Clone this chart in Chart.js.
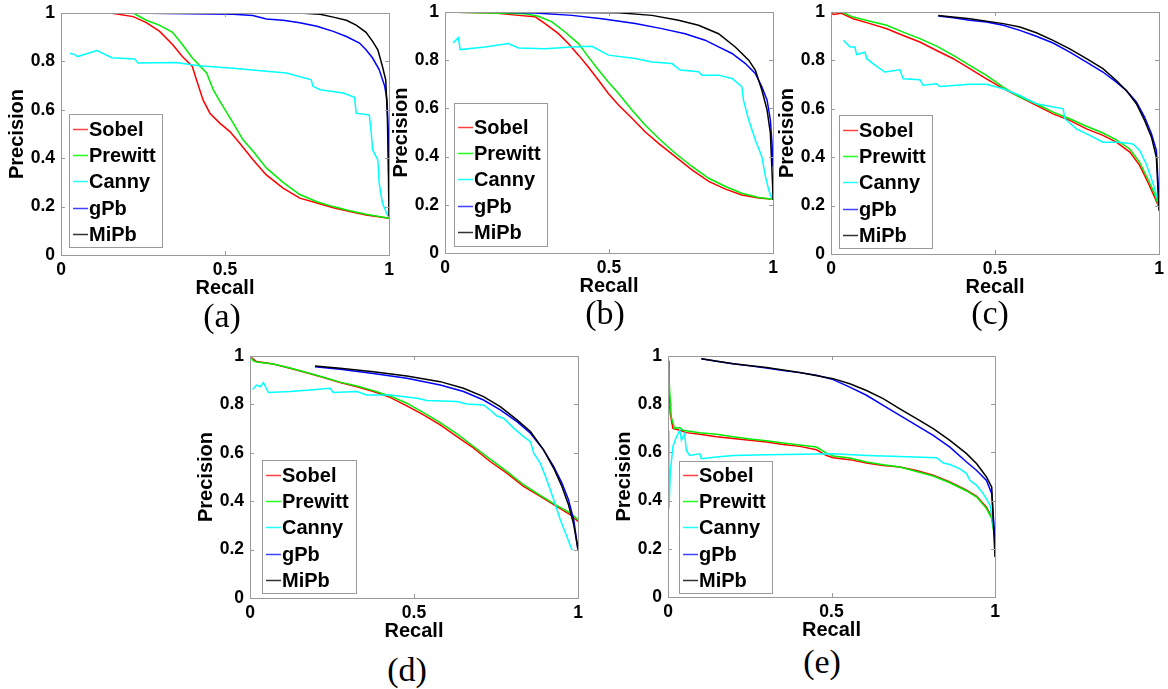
<!DOCTYPE html>
<html>
<head>
<meta charset="utf-8">
<title>Precision-Recall curves</title>
<script src="https://cdn.jsdelivr.net/npm/chart.js@4.4.1/dist/chart.umd.min.js"></script>
<style>
  html, body { margin: 0; padding: 0; background: #fff; }
  #fig { position: relative; width: 1168px; height: 689px; overflow: hidden; }
  #fig canvas { position: absolute; }
  .panel-label {
    position: absolute; width: 80px; text-align: center; color: #000;
    font: 34px "Liberation Serif", "Times New Roman", serif; line-height: 34px;
  }
</style>
</head>
<body>
<div id="fig"></div>
<script>
// DATA
const seriesNames = ['Sobel', 'Prewitt', 'Canny', 'gPb', 'MiPb'];
const panelNames = ['(a)', '(b)', '(c)', '(d)', '(e)'];
const xTicks = [0, 0.5, 1];
const xTickLabels = ['0', '0.5', '1'];
const yTicks = [0, 0.2, 0.4, 0.6, 0.8, 1];
const yTickLabels = ['0', '0.2', '0.4', '0.6', '0.8', '1'];
const xTitle = 'Recall';
const yTitle = 'Precision';

// panel (a): [recall, precision]
const sobelA = [[0.063,1],[0.15,1],[0.22,0.985],[0.26,0.96],[0.30,0.925],[0.34,0.87],[0.37,0.82],[0.40,0.78],[0.413,0.724],[0.433,0.641],[0.454,0.586],[0.484,0.545],[0.515,0.51],[0.545,0.462],[0.586,0.393],[0.626,0.331],[0.677,0.276],[0.728,0.235],[0.78,0.215],[0.83,0.195],[0.88,0.18],[0.93,0.165],[1.0,0.152]];
const prewittA = [[0,1],[0.22,1],[0.26,0.97],[0.30,0.95],[0.34,0.92],[0.37,0.87],[0.40,0.815],[0.444,0.752],[0.464,0.683],[0.485,0.634],[0.525,0.545],[0.555,0.476],[0.585,0.43],[0.626,0.36],[0.677,0.30],[0.728,0.25],[0.78,0.22],[0.83,0.20],[0.88,0.183],[0.93,0.168],[1.0,0.152]];
const cannyA = [[0.027,0.834],[0.043,0.828],[0.05,0.82],[0.11,0.845],[0.155,0.815],[0.225,0.81],[0.235,0.793],[0.35,0.795],[0.42,0.782],[0.525,0.772],[0.626,0.759],[0.687,0.752],[0.763,0.724],[0.768,0.697],[0.79,0.683],[0.86,0.669],[0.895,0.652],[0.90,0.586],[0.94,0.579],[0.946,0.503],[0.95,0.434],[0.966,0.393],[0.97,0.297],[0.98,0.214],[0.997,0.159]];
const gpbA = [[0.2,1],[0.525,0.995],[0.585,0.99],[0.626,0.975],[0.677,0.97],[0.728,0.96],[0.78,0.945],[0.83,0.924],[0.87,0.903],[0.91,0.876],[0.93,0.848],[0.95,0.814],[0.97,0.766],[0.987,0.697],[0.994,0.641],[0.998,0.503],[0.999,0.338]];
const mipbA = [[0.2,1],[0.728,1],[0.79,0.995],[0.83,0.983],[0.87,0.97],[0.90,0.95],[0.93,0.92],[0.95,0.883],[0.966,0.848],[0.98,0.779],[0.99,0.724],[0.995,0.572],[0.998,0.366],[1.0,0.159]];

// panel (b)
const sobelB = [[0,1],[0.153,0.996],[0.224,0.986],[0.275,0.98],[0.305,0.952],[0.346,0.91],[0.376,0.869],[0.407,0.821],[0.437,0.772],[0.468,0.717],[0.498,0.662],[0.529,0.614],[0.57,0.559],[0.61,0.503],[0.651,0.455],[0.702,0.40],[0.753,0.345],[0.804,0.297],[0.855,0.265],[0.905,0.241],[0.956,0.228],[1.0,0.223]];
const prewittB = [[0,1],[0.244,0.993],[0.285,0.982],[0.326,0.959],[0.366,0.917],[0.407,0.869],[0.437,0.814],[0.468,0.759],[0.498,0.71],[0.529,0.662],[0.57,0.593],[0.61,0.531],[0.651,0.476],[0.702,0.414],[0.753,0.359],[0.804,0.31],[0.855,0.276],[0.905,0.248],[0.956,0.23],[1.0,0.223]];
const cannyB = [[0.025,0.872],[0.041,0.894],[0.046,0.844],[0.122,0.855],[0.193,0.869],[0.224,0.851],[0.305,0.848],[0.387,0.855],[0.448,0.858],[0.498,0.821],[0.58,0.807],[0.631,0.793],[0.692,0.786],[0.717,0.759],[0.773,0.752],[0.783,0.738],[0.834,0.738],[0.875,0.724],[0.905,0.69],[0.91,0.634],[0.926,0.552],[0.946,0.469],[0.966,0.40],[0.977,0.317],[0.987,0.262],[0.997,0.223]];
const gpbB = [[0.122,1],[0.275,0.996],[0.387,0.986],[0.478,0.972],[0.58,0.952],[0.661,0.931],[0.732,0.91],[0.793,0.883],[0.834,0.855],[0.875,0.828],[0.916,0.786],[0.946,0.745],[0.966,0.69],[0.982,0.634],[0.992,0.552],[0.997,0.455],[1.0,0.359]];
const mipbB = [[0.122,1],[0.529,0.997],[0.631,0.986],[0.712,0.966],[0.773,0.945],[0.834,0.91],[0.885,0.855],[0.926,0.80],[0.946,0.759],[0.966,0.676],[0.982,0.593],[0.992,0.497],[0.999,0.276],[1.0,0.221]];

// panel (c)
const sobelC = [[0,1],[0.007,0.99],[0.032,0.995],[0.068,0.972],[0.119,0.952],[0.17,0.931],[0.22,0.903],[0.271,0.876],[0.322,0.841],[0.373,0.807],[0.423,0.766],[0.474,0.724],[0.525,0.683],[0.576,0.648],[0.626,0.614],[0.677,0.579],[0.728,0.552],[0.779,0.517],[0.829,0.49],[0.87,0.462],[0.911,0.421],[0.941,0.366],[0.966,0.297],[0.987,0.234],[1.0,0.193]];
const prewittC = [[0,0.998],[0.032,1],[0.068,0.979],[0.119,0.962],[0.17,0.945],[0.22,0.917],[0.271,0.89],[0.322,0.859],[0.373,0.821],[0.423,0.779],[0.474,0.738],[0.525,0.69],[0.576,0.648],[0.626,0.621],[0.677,0.586],[0.728,0.559],[0.779,0.528],[0.829,0.5],[0.87,0.472],[0.911,0.434],[0.941,0.379],[0.966,0.31],[0.987,0.248],[1.0,0.193]];
const cannyC = [[0.038,0.883],[0.058,0.855],[0.073,0.855],[0.078,0.824],[0.104,0.834],[0.109,0.807],[0.129,0.786],[0.164,0.752],[0.21,0.761],[0.22,0.724],[0.271,0.72],[0.281,0.697],[0.322,0.703],[0.332,0.692],[0.423,0.701],[0.474,0.701],[0.525,0.683],[0.576,0.655],[0.626,0.621],[0.708,0.60],[0.713,0.559],[0.748,0.517],[0.789,0.49],[0.829,0.462],[0.88,0.462],[0.921,0.455],[0.941,0.428],[0.961,0.372],[0.982,0.29],[0.997,0.221]];
const gpbC = [[0.327,0.983],[0.373,0.976],[0.423,0.966],[0.474,0.959],[0.525,0.945],[0.576,0.924],[0.626,0.90],[0.677,0.872],[0.728,0.834],[0.779,0.793],[0.829,0.752],[0.87,0.71],[0.90,0.676],[0.931,0.628],[0.956,0.566],[0.977,0.497],[0.992,0.428],[1.0,0.221]];
const mipbC = [[0.327,0.986],[0.423,0.972],[0.525,0.952],[0.576,0.938],[0.626,0.914],[0.677,0.883],[0.728,0.848],[0.779,0.807],[0.829,0.766],[0.87,0.717],[0.90,0.676],[0.931,0.621],[0.956,0.552],[0.977,0.483],[0.992,0.40],[1.0,0.179]];

// panel (d)
const sobelD = [[0,0.997],[0.02,0.977],[0.071,0.967],[0.122,0.949],[0.173,0.931],[0.224,0.911],[0.275,0.89],[0.326,0.873],[0.376,0.853],[0.427,0.829],[0.478,0.794],[0.529,0.757],[0.58,0.715],[0.631,0.667],[0.682,0.619],[0.732,0.564],[0.783,0.516],[0.834,0.461],[0.885,0.42],[0.936,0.378],[0.977,0.344],[1.0,0.316]];
const prewittD = [[0,1],[0.01,0.98],[0.02,0.975],[0.071,0.967],[0.122,0.95],[0.173,0.932],[0.224,0.912],[0.275,0.892],[0.326,0.876],[0.376,0.857],[0.427,0.835],[0.478,0.805],[0.529,0.766],[0.58,0.725],[0.631,0.678],[0.682,0.626],[0.732,0.574],[0.783,0.523],[0.834,0.468],[0.885,0.424],[0.936,0.382],[0.977,0.351],[1.0,0.323]];
const cannyD = [[0.008,0.862],[0.02,0.88],[0.031,0.873],[0.041,0.89],[0.056,0.849],[0.122,0.853],[0.183,0.86],[0.244,0.867],[0.254,0.849],[0.326,0.853],[0.356,0.839],[0.427,0.839],[0.509,0.825],[0.539,0.816],[0.631,0.812],[0.661,0.802],[0.712,0.798],[0.732,0.777],[0.753,0.752],[0.773,0.743],[0.804,0.702],[0.834,0.667],[0.855,0.646],[0.865,0.598],[0.885,0.557],[0.905,0.488],[0.926,0.406],[0.946,0.323],[0.966,0.254],[0.982,0.197]];
const gpbD = [[0.198,0.956],[0.275,0.945],[0.376,0.928],[0.478,0.908],[0.58,0.88],[0.651,0.853],[0.712,0.818],[0.763,0.777],[0.814,0.729],[0.855,0.681],[0.895,0.612],[0.926,0.543],[0.951,0.475],[0.971,0.406],[0.987,0.323],[1.0,0.2]];
const mipbD = [[0.198,0.959],[0.275,0.949],[0.376,0.935],[0.478,0.917],[0.58,0.894],[0.651,0.867],[0.712,0.832],[0.763,0.791],[0.814,0.736],[0.855,0.688],[0.895,0.612],[0.926,0.536],[0.951,0.461],[0.971,0.385],[0.987,0.303],[1.0,0.2]];

// panel (e)
const sobelE = [[0,0.98],[0.003,0.857],[0.007,0.761],[0.015,0.70],[0.036,0.692],[0.056,0.682],[0.097,0.675],[0.148,0.665],[0.199,0.658],[0.25,0.65],[0.301,0.643],[0.352,0.633],[0.403,0.625],[0.454,0.611],[0.485,0.587],[0.505,0.578],[0.556,0.57],[0.607,0.556],[0.658,0.546],[0.709,0.539],[0.76,0.525],[0.811,0.505],[0.862,0.477],[0.913,0.443],[0.944,0.418],[0.974,0.373],[0.99,0.332],[1.0,0.249]];
const prewittE = [[0,1],[0.005,0.857],[0.01,0.747],[0.02,0.70],[0.036,0.703],[0.046,0.692],[0.097,0.682],[0.148,0.675],[0.199,0.665],[0.25,0.656],[0.301,0.648],[0.352,0.639],[0.403,0.631],[0.454,0.622],[0.485,0.597],[0.505,0.585],[0.556,0.577],[0.607,0.56],[0.658,0.549],[0.709,0.539],[0.76,0.521],[0.811,0.502],[0.862,0.474],[0.913,0.44],[0.944,0.415],[0.974,0.367],[0.99,0.325],[1.0,0.235]];
const cannyE = [[0.002,0.69],[0.003,0.367],[0.007,0.515],[0.015,0.625],[0.026,0.665],[0.036,0.692],[0.041,0.651],[0.051,0.678],[0.056,0.609],[0.066,0.587],[0.097,0.594],[0.102,0.574],[0.148,0.581],[0.199,0.587],[0.301,0.59],[0.403,0.592],[0.505,0.594],[0.607,0.587],[0.709,0.583],[0.821,0.578],[0.842,0.556],[0.862,0.55],[0.893,0.532],[0.913,0.512],[0.923,0.484],[0.944,0.463],[0.964,0.429],[0.985,0.38],[1.0,0.249]];
const gpbE = [[0.102,0.989],[0.148,0.978],[0.199,0.968],[0.25,0.959],[0.301,0.95],[0.352,0.94],[0.403,0.931],[0.454,0.92],[0.505,0.902],[0.556,0.871],[0.607,0.837],[0.658,0.795],[0.709,0.754],[0.76,0.712],[0.811,0.671],[0.862,0.622],[0.913,0.56],[0.944,0.525],[0.974,0.484],[0.99,0.429],[1.0,0.235]];
const mipbE = [[0.102,0.989],[0.199,0.968],[0.301,0.952],[0.403,0.932],[0.505,0.906],[0.556,0.885],[0.607,0.857],[0.658,0.823],[0.709,0.781],[0.76,0.74],[0.811,0.699],[0.862,0.65],[0.913,0.595],[0.944,0.553],[0.974,0.498],[0.99,0.456],[1.0,0.166]];

// LAYOUT (page pixels): plot box and legend box of each panel
const lineColors = ['#ff0000', '#00f000', '#00ffff', '#0000ff', '#000000'];
const legendColors = ['#ff4040', '#20ff20', '#20ffff', '#4040ff', '#333333'];
const panels = [
  { series: [sobelA, prewittA, cannyA, gpbA, mipbA], box: [61, 13, 389, 255], legend: { dx: 8, dy: 8, w: 93, h: 133, first: 15 }, label: [222, 319] },
  { series: [sobelB, prewittB, cannyB, gpbB, mipbB], box: [445, 12, 773, 253], legend: { dx: 9, dy: 7, w: 93, h: 143, first: 24 }, label: [605, 316] },
  { series: [sobelC, prewittC, cannyC, gpbC, mipbC], box: [831, 12, 1159, 254], legend: { dx: 8, dy: 6, w: 93, h: 133, first: 15 }, label: [990, 316] },
  { series: [sobelD, prewittD, cannyD, gpbD, mipbD], box: [250, 356, 578, 598], legend: { dx: 12, dy: 5, w: 94, h: 133, first: 15 }, label: [407, 673] },
  { series: [sobelE, prewittE, cannyE, gpbE, mipbE], box: [668, 356, 995, 597], legend: { dx: 11, dy: 4, w: 93, h: 132, first: 14 }, label: [822, 665] }
];

const Y_AXIS_W = 56;
const X_AXIS_H = 45;
const PAD_TOP = 13;
const PAD_RIGHT = 14;
// single quotes here: double quotes break the canvas font string
const FONT = "'Liberation Sans', Arial, Helvetica, sans-serif";

Chart.defaults.font.family = FONT;
Chart.defaults.color = '#000';

// axes frame with inward tick marks on all four sides
const frameBox = {
  id: 'frameBox',
  afterDatasetsDraw(chart) {
    const { ctx, chartArea: a, scales: { x, y } } = chart;
    const t = 4;
    ctx.save();
    ctx.strokeStyle = '#9a9a9a';
    ctx.lineWidth = 1;
    ctx.beginPath();
    xTicks.forEach(v => {
      const px = Math.round(x.getPixelForValue(v)) + 0.5;
      ctx.moveTo(px, a.bottom); ctx.lineTo(px, a.bottom - t);
      ctx.moveTo(px, a.top); ctx.lineTo(px, a.top + t);
    });
    yTicks.forEach(v => {
      const py = Math.round(y.getPixelForValue(v)) + 0.5;
      ctx.moveTo(a.left, py); ctx.lineTo(a.left + t, py);
      ctx.moveTo(a.right, py); ctx.lineTo(a.right - t, py);
    });
    ctx.stroke();
    ctx.strokeRect(Math.round(a.left) + 0.5, Math.round(a.top) + 0.5,
      Math.round(a.right - a.left), Math.round(a.bottom - a.top));
    ctx.restore();
  }
};

// matlab-like boxed legend in the lower left corner
const boxLegend = {
  id: 'boxLegend',
  afterDraw(chart, args, opts) {
    const { ctx, chartArea: a } = chart;
    const left = Math.round(a.left + opts.dx);
    const top = Math.round(a.bottom - opts.dy - opts.h);
    ctx.save();
    ctx.fillStyle = '#fff';
    ctx.fillRect(left, top, opts.w, opts.h);
    ctx.strokeStyle = '#9a9a9a';
    ctx.lineWidth = 1;
    ctx.strokeRect(left + 0.5, top + 0.5, opts.w, opts.h);
    ctx.font = 'bold 20px ' + FONT;
    ctx.textBaseline = 'middle';
    ctx.textAlign = 'left';
    for (let i = 0; i < seriesNames.length; i++) {
      const cy = Math.round(top + opts.first + i * 26.2);
      ctx.beginPath();
      ctx.strokeStyle = legendColors[i];
      ctx.lineWidth = 1.5;
      ctx.moveTo(left + 4, cy + 0.5);
      ctx.lineTo(left + 19, cy + 0.5);
      ctx.stroke();
      ctx.fillStyle = '#000';
      ctx.fillText(seriesNames[i], left + 20, cy + 1);
    }
    ctx.restore();
  }
};

function makePanel(p, idx) {
  const [L, T, R, B] = p.box;
  const fig = document.getElementById('fig');
  const canvas = document.createElement('canvas');
  const cw = R - L + Y_AXIS_W + PAD_RIGHT;
  const ch = B - T + PAD_TOP + X_AXIS_H;
  canvas.width = cw;
  canvas.height = ch;
  canvas.style.left = (L - Y_AXIS_W) + 'px';
  canvas.style.top = (T - PAD_TOP) + 'px';
  canvas.style.width = cw + 'px';
  canvas.style.height = ch + 'px';
  fig.appendChild(canvas);

  const datasets = p.series.map((pts, i) => ({
    label: seriesNames[i],
    data: pts.map(q => ({ x: q[0], y: q[1] })),
    borderColor: lineColors[i],
    borderWidth: 1.5,
    pointRadius: 0,
    tension: 0,
    fill: false,
    order: seriesNames.length - i // later series on top, like matlab
  }));

  new Chart(canvas, {
    type: 'line',
    data: { datasets },
    plugins: [frameBox, boxLegend],
    options: {
      responsive: false,
      animation: false,
      layout: { padding: { top: PAD_TOP, right: PAD_RIGHT, left: 0, bottom: 0 } },
      plugins: {
        legend: { display: false },
        tooltip: { enabled: false },
        boxLegend: p.legend
      },
      scales: {
        x: {
          type: 'linear',
          min: 0,
          max: 1,
          grid: { display: false, drawTicks: false },
          border: { display: false },
          afterBuildTicks: s => { s.ticks = xTicks.map(v => ({ value: v })); },
          afterFit: s => { s.height = X_AXIS_H; s.paddingLeft = 0; s.paddingRight = 0; },
          ticks: {
            padding: 5,
            maxRotation: 0,
            autoSkip: false,
            color: '#000',
            font: { size: 17.5, weight: 'bold' },
            callback: v => xTickLabels[xTicks.indexOf(v)]
          },
          title: { display: true, text: xTitle, color: '#000', padding: 0, font: { size: 20, weight: 'bold' } }
        },
        y: {
          type: 'linear',
          min: 0,
          max: 1,
          grid: { display: false, drawTicks: false },
          border: { display: false },
          afterBuildTicks: s => { s.ticks = yTicks.map(v => ({ value: v })); },
          afterFit: s => { s.width = Y_AXIS_W; s.paddingTop = 0; s.paddingBottom = 0; },
          ticks: {
            padding: 6,
            autoSkip: false,
            color: '#000',
            font: { size: 17.5, weight: 'bold' },
            callback: v => yTickLabels[yTicks.indexOf(v)]
          },
          title: { display: true, text: yTitle, color: '#000', padding: 0, font: { size: 20, weight: 'bold' } }
        }
      }
    }
  });

  const lab = document.createElement('div');
  lab.className = 'panel-label';
  lab.textContent = panelNames[idx];
  lab.style.left = (p.label[0] - 40) + 'px';
  lab.style.top = (p.label[1] - 20) + 'px';
  fig.appendChild(lab);
}

// INIT
panels.forEach(makePanel);
</script>
</body>
</html>
